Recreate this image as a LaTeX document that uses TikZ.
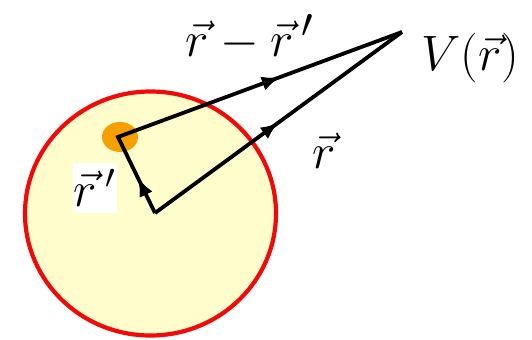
\documentclass[tikz,border=0pt]{standalone}
\usepackage{tikz}
\usetikzlibrary{arrows.meta, decorations.markings, positioning}
\definecolor{PaleYellow}{RGB}{255, 253, 204}
\definecolor{RimRed}{RGB}{240, 10, 10}
\definecolor{BlobOrange}{RGB}{245, 160, 0}

\begin{document}
\begin{tikzpicture}[
        x=0.5pt, y=-0.5pt,
        vec/.style={line width=1.9pt, black},
        midarrow/.style={postaction={decorate}, decoration={markings, mark=at position #1 with {\arrow{Latex[length=9pt, width=7pt]}}}},
        biglabel/.style={font=\fontsize{29}{32}\selectfont, inner sep=0pt}
    ]
        \useasboundingbox (0,0) rectangle (532,339);
        % charge region
        \draw[RimRed, line width=2.1pt, fill=PaleYellow] (150.5,213.5) ellipse [x radius=125.5, y radius=122];
        \fill[BlobOrange] (120,137) ellipse [x radius=18, y radius=15];
        
        \coordinate (origin) at (155,213);
        \coordinate (source) at (118,137);
        \coordinate (field) at (402,32);
        
        \draw[vec, midarrow=0.5] (origin) -- (field);
        \draw[vec, midarrow=0.1, midarrow=0.664, line join=miter] (origin) -- (source) -- (field);
        
        \node[biglabel, anchor=base] (diff) at (250,56) {$\vec{r}-\vec{r}\,'$};
        \node[biglabel, anchor=base west] (pot) at (421,70) {$V(\vec{r})$};
        \node[biglabel, anchor=base] (rvec) at (324,168) {$\vec{r}$};
        \node[fill=white, minimum width=22pt, minimum height=25pt, inner sep=0pt, font=\fontsize{24}{26}\selectfont] (rprime) at (95,188) {$\vec{r}\,'$};
    \end{tikzpicture}
\end{document}
